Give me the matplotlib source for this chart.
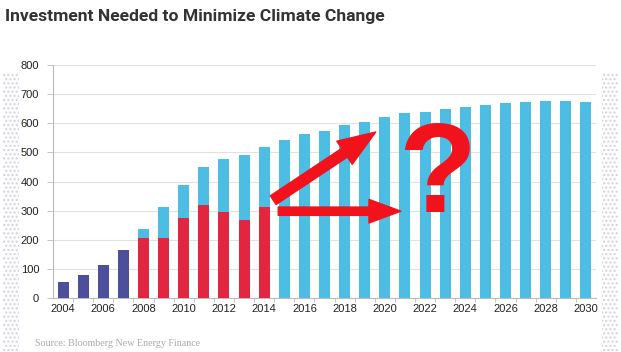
import matplotlib
matplotlib.use("Agg")
import matplotlib.pyplot as plt
from matplotlib.patches import Rectangle
import numpy as np

years = list(range(2004, 2031))
# historical investment (purple) 2004-2007
hist_years = [2004, 2005, 2006, 2007]
hist_vals = [55, 80, 115, 165]
# actual investment (red) 2008-2014
actual_years = [2008, 2009, 2010, 2011, 2012, 2013, 2014]
actual_vals = [205, 206, 273, 319, 295, 269, 311]
# needed investment (blue totals) 2008-2030
needed_years = list(range(2008, 2031))
needed_vals = [237, 312, 388, 450, 476, 492, 517, 542, 563, 574, 594, 606, 622,
               635, 639, 650, 655, 662, 669, 674, 676, 676, 674]

yticks = [0, 100, 200, 300, 400, 500, 600, 700, 800]
xtick_labels = [str(y) for y in range(2004, 2031, 2)]

PURPLE = "#4b4f9c"
RED = "#e3263f"
BLUE = "#4dbde3"
ARROW_RED = "#f2121c"

fig = plt.figure(figsize=(6.21, 3.52), dpi=100)
ax = fig.add_axes([53/621, 1-298/352, (596-53)/621, (298-65)/352])

w = 0.55
ax.bar(needed_years, needed_vals, width=w, color=BLUE, zorder=2)
ax.bar(actual_years, actual_vals, width=w, color=RED, zorder=3)
ax.bar(hist_years, hist_vals, width=w, color=PURPLE, zorder=3)

ax.set_xlim(2003.5, 2030.5)
ax.set_ylim(0, 800)
ax.set_yticks(yticks)
ax.set_yticklabels([str(v) for v in yticks], fontsize=8, color="#222222",
                   family="Liberation Sans")
ax.set_xticks(list(range(2004, 2031, 2)))
ax.set_xticklabels(xtick_labels, fontsize=8, color="#222222", family="Liberation Sans")
ax.set_xticks(np.arange(2004.5, 2030.5, 1.0), minor=True)
ax.tick_params(axis="x", which="major", length=0, pad=4)
ax.tick_params(axis="x", which="minor", length=3, color="#bbbbbb", width=0.6)
ax.tick_params(axis="y", length=4, color="#bbbbbb", width=0.6, pad=6)
ax.grid(axis="y", color="#e2e2e2", linewidth=0.8, zorder=0)
ax.set_axisbelow(True)
for s in ["top", "right"]:
    ax.spines[s].set_visible(False)
for s in ["left", "bottom"]:
    ax.spines[s].set_color("#bbbbbb")
    ax.spines[s].set_linewidth(0.8)

# annotations: arrows and question mark
up_style = "simple,head_length=2.7,head_width=2.0,tail_width=0.75"
flat_style = "simple,head_length=2.3,head_width=1.7,tail_width=0.6"
ax.annotate("", xy=(2019.55, 570), xytext=(2014.45, 336),
            arrowprops=dict(arrowstyle=up_style, mutation_scale=10,
                            color=ARROW_RED, shrinkA=0, shrinkB=0), zorder=5)
ax.annotate("", xy=(2020.8, 298), xytext=(2014.7, 298),
            arrowprops=dict(arrowstyle=flat_style, mutation_scale=10,
                            color=ARROW_RED, shrinkA=0, shrinkB=0), zorder=5)
ax.text(2022.6, 408, "?", fontsize=92, color=ARROW_RED, ha="center", va="center",
        family="Liberation Sans", fontweight="bold", zorder=6)

# title and source
fig.text(5/621, 1-16/352, "Investment Needed to Minimize Climate Change",
         fontsize=12.6, fontweight="bold", color="#333333", va="center", ha="left",
         family="Roboto")
fig.text(35/621, 1-343/352, "Source: Bloomberg New Energy Finance", fontsize=7.2,
         color="#aaaaaa", va="center", ha="left", family="Liberation Serif")

# decorative dotted side strips
for x0, x1 in [(3, 19), (602, 618)]:
    r = Rectangle((x0/621, 0), (x1-x0)/621, 1-73/352, transform=fig.transFigure,
                  facecolor="none", edgecolor="#cfcfee", hatch="....", linewidth=0)
    fig.patches.append(r)

fig.savefig("out.png", dpi=100)
